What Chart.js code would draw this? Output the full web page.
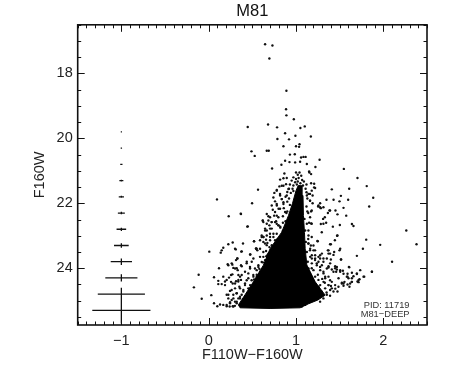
<!DOCTYPE html>
<html>
<head>
<meta charset="utf-8">
<script src="https://cdn.jsdelivr.net/npm/chart.js@4/dist/chart.umd.min.js"></script>
<style>
  html, body { margin: 0; background: #fff; }
  canvas { display: block; }
</style>
</head>
<body>
<canvas id="cmd" width="450" height="375"></canvas>
<script>
// Axis ticks
const xTickValues = [-1, 0, 1, 2];
const yTickValues = [18, 20, 22, 24];

// Median photometric errors, drawn at color = -1
const errMag = [19.8, 20.3, 20.8, 21.3, 21.8, 22.3, 22.8, 23.3, 23.8, 24.3, 24.8, 25.3];
const errColor = [0.006, 0.008, 0.013, 0.023, 0.03, 0.04, 0.055, 0.084, 0.122, 0.184, 0.27, 0.333];
const errMagHalf = [0.01, 0.015, 0.02, 0.025, 0.03, 0.04, 0.05, 0.07, 0.1, 0.11, 0.2, 0.4];

// Stars, [F110W-F160W, F160W], read by eye
const brightStars = [
  [0.646,17.10],[0.73,17.14],[0.695,17.54],[0.89,18.53],[0.886,19.10],[0.89,19.29],[0.975,19.41],
  [0.447,19.65],[0.68,19.57],[0.783,19.66],[1.10,19.63],[1.05,19.68],[0.875,19.84],[0.993,19.92],
  [1.17,19.94],[0.787,20.02],[0.92,20.03],[0.856,20.24],[1.0,20.24],[1.04,20.18],[1.035,20.26],
  [0.665,20.38],[0.688,20.38],[0.49,20.40],[0.527,20.54],[0.93,20.50],[0.986,20.49],[1.058,20.59],
  [1.085,20.57],[1.11,20.57],[1.27,20.66],[0.875,20.69],[0.925,20.73],[0.99,20.74],[1.047,20.72],
  [1.124,20.79],[0.833,20.81],[0.726,20.93],[1.222,20.88],[1.548,20.94],[1.15,21.02],[1.173,21.10],
  [1.704,21.22],[0.867,21.08],[0.818,21.27],[0.856,21.23],[0.894,21.22],
  [1.0,21.05],[1.02,21.12],[1.04,21.05],[1.06,21.15],[0.97,21.2],[1.0,21.25],[1.03,21.22],[1.07,21.28],
  [0.95,21.3],[0.99,21.35],[1.02,21.33],[1.05,21.38],[1.09,21.33],[0.93,21.42],[0.97,21.45],[1.01,21.42],
  [1.04,21.47],[1.08,21.45],[1.12,21.42],[0.92,21.55],[0.96,21.55],[1.11,21.55],[0.9,21.65],[0.94,21.68],
  [0.97,21.62],[1.12,21.66],[0.88,21.8],[0.92,21.85],[1.13,21.85],[0.9,21.95],[0.93,22.05],[0.86,22.15],
  [0.9,22.25],[0.85,22.4],[0.88,22.55],[0.82,22.75],[0.85,22.85],[0.76,23.25],[0.79,23.1]
];
const leftStars = [
  [0.565,21.58],[0.095,21.88],[0.497,22.00],[0.229,22.40],[0.367,22.32],[0.443,22.72],[0.62,22.54],[0.684,22.40],
  [0.78,22.38],[0.75,22.38],[0.72,22.58],[0.772,22.55],[0.8,22.68],[0.695,22.68],[0.646,22.78],
  [0.837,21.46],[0.81,21.48],[0.78,21.59],[0.752,21.68],[0.913,21.56],[0.886,21.41],[0.818,21.76],[0.837,21.87],
  [0.76,21.94],[0.722,22.07],[0.78,22.07],[0.734,22.2],[0.8,22.17],[0.856,21.97],[0.894,21.76],
  [0.856,21.46],[0.779,21.61],[0.817,21.71],[0.741,21.82],[0.837,21.87],[0.779,22.02],[0.856,22.02],
  [0.817,22.17],[0.76,22.27],[0.665,22.33],[0.875,22.27],[0.703,22.43],[0.798,22.43],[0.619,22.53],[0.722,22.58],
  [0.665,22.63],[0.779,22.63],[0.646,22.84],[0.703,22.78],[0.607,23.04],[0.665,22.99],[0.741,22.94],[0.626,23.19],
  [0.703,23.14],[0.542,23.4],[0.519,23.17],[0.665,23.29],[0.588,23.4],[0.447,22.71],[0.37,22.33],
  [0.007,23.49],[0.138,23.52],[0.149,23.45],[0.167,23.37],[0.225,23.26],[0.275,23.21],[0.393,23.24],[0.52,23.17],
  [0.31,23.42],[0.374,23.49],[0.477,23.58],[0.542,23.39],[0.557,23.45],[0.328,23.7],[0.313,23.75],[0.436,23.8],
  [0.264,23.85],[0.218,23.88],[0.118,24.0],[0.378,23.94],[0.282,23.99],[0.321,24.0],[0.167,24.26],[0.061,24.28],
  [-0.115,24.2],[0.271,24.19],[0.233,24.29],[0.359,24.26],[0.11,24.39],[0.187,24.41],[0.149,24.49],[0.11,24.49],
  [0.187,24.52],[0.275,24.47],[0.339,24.41],[-0.169,24.59],[0.244,24.7],[0.03,24.83],[-0.08,24.94],[0.206,24.82],
  [0.302,24.62],[0.061,25.08],[0.099,25.17],[0.13,25.12],[0.167,25.13],[0.206,25.17],[0.244,25.08],[0.275,25.17],
  [0.321,25.03],[0.359,24.88],
  [0.588,23.14],[0.626,23.04],[0.607,22.99],[0.657,23.12],[0.672,23.22],[0.702,22.94],[0.741,23.04],[0.695,23.35],
  [0.657,23.47],[0.722,23.47],[0.672,23.60],[0.626,23.65],[0.607,23.81],[0.645,23.86],[0.569,23.96],[0.53,24.01],
  [0.588,24.11],[0.55,24.26],[0.511,24.21],[0.473,23.96],[0.454,24.16],[0.492,24.37],[0.435,24.37],[0.416,24.52],
  [0.454,24.62],[0.397,24.67],[0.351,24.57],[0.378,24.82],[0.32,24.77],[0.282,24.82],[0.34,24.93],[0.397,24.98],
  [0.301,25.03],[0.225,24.93],[0.263,24.98],[0.359,25.13],
  [0.626,22.58],[0.684,22.53],[0.76,22.58],[0.798,22.68],[0.665,22.84],[0.722,22.78],[0.779,22.94],[0.626,23.04],
  [0.703,23.04],[0.76,23.14],[0.645,23.24],[0.722,23.29],[0.798,23.29],[0.55,23.40],[0.626,23.5],[0.684,23.55],
  [0.588,23.65],[0.512,23.7],[0.645,23.75],[0.569,23.91],[0.493,23.8],[0.435,23.85],[0.55,24.06],[0.474,24.01],
  [0.416,24.11],[0.512,24.26],[0.454,24.31],[0.378,24.21],[0.34,24.36],[0.416,24.47],[0.474,24.52],[0.302,24.47],
  [0.359,24.62],[0.263,24.67],[0.321,24.77],[0.397,24.72],[0.225,24.82],[0.283,24.93],[0.359,24.93],[0.244,25.05],
  [0.321,25.08],[0.206,25.13],[0.283,25.18],[0.37,25.15],[0.302,23.4],[0.378,23.48],[0.474,23.58],[0.328,23.7],
  [0.271,23.89],[0.225,23.91],[0.37,23.91],[0.332,24.06],[0.302,24.01],[0.256,24.21],[0.34,24.21],[0.37,24.36],
  [0.206,24.36],[0.256,24.42],[0.313,24.40],
  [0.3,25.16],[0.24,25.18],[0.4,25.05],[0.43,24.95],[0.46,24.78],[0.48,24.65],[0.52,24.35],[0.55,24.2],[0.58,24.02],
  [0.62,23.82],[0.66,23.63],[0.7,23.6],[0.74,23.35],[0.78,23.15],[0.82,22.72],[0.85,22.6],[0.89,22.3]
];
const rightStars = [
  [1.81,21.47],[1.609,21.55],[1.41,21.57],[1.884,21.83],[1.838,22.1],[1.514,21.77],[1.597,21.89],[1.43,21.89],
  [1.498,21.94],[1.349,21.89],[1.276,22.0],[1.314,22.12],[1.284,22.15],[1.253,22.10],[1.173,22.25],[1.13,22.25],
  [1.383,22.22],[1.365,22.30],[1.452,22.22],[1.544,22.14],[1.475,22.34],[1.575,22.38],[1.33,22.43],[1.31,22.48],
  [1.345,22.60],[1.284,22.64],[1.314,22.63],[1.173,22.62],[1.422,22.72],[1.502,22.67],[1.64,22.64],[1.658,22.70],
  [1.219,21.53],[1.208,21.40],[1.173,21.38],[1.18,21.61],[1.16,21.71],[1.19,21.76],[1.124,21.76],[1.16,21.92],
  [1.19,22.0],[1.153,21.05],[1.142,21.71],[1.161,21.92],[1.18,22.22],[1.161,22.43],[1.207,21.51],[1.18,22.63],
  [1.142,22.84],[1.18,23.04],[1.142,23.24],[1.257,22.07],[1.276,22.12],[1.295,22.89],[1.249,23.17],[1.39,22.22],
  [1.218,23.45],[1.276,23.6],[1.314,23.7],[1.218,23.75],
  [2.263,22.84],[1.964,23.28],[2.38,23.26],[2.10,23.80],[1.869,24.11],[1.804,23.12],[1.766,23.40],[1.697,23.62],
  [1.609,23.97],[1.735,24.06],[1.697,24.18],[1.781,24.26],[1.727,24.34],[1.704,24.41],[1.64,24.31],[1.59,24.17],
  [1.475,22.99],[1.445,23.14],[1.39,23.26],[1.245,23.16],[1.506,23.40],[1.437,23.50],[1.39,23.55],[1.365,23.45],
  [1.517,23.73],[1.448,23.94],[1.506,24.06],[1.372,23.98],[1.468,24.04],[1.544,24.17],[1.601,24.31],[1.525,24.45],
  [1.59,24.5],[1.399,23.26],[1.47,23.0],[1.498,23.45],[1.372,23.45],[1.372,23.55],[1.429,23.59],[1.399,23.73],
  [1.514,23.73],[1.606,23.96],[1.537,24.08],[1.448,24.0],[1.46,24.11],[1.41,24.04],[1.372,23.94],[1.64,24.14],
  [1.658,24.25],[1.869,24.11],[1.59,24.26],[1.716,24.43],[1.64,24.42],[1.555,24.42],[1.525,24.47],[1.544,24.54],
  [1.612,24.57],[1.486,24.57],[1.475,24.72],[1.429,24.72],[1.41,24.62],[1.372,24.52],[1.334,24.31],[1.39,24.37],
  [1.314,24.11],[1.276,23.96],[1.238,23.85],[1.276,23.7],[1.314,23.8],[1.219,23.6],[1.181,23.7],[1.16,23.45],
  [1.142,23.24],[1.39,24.85],[1.314,24.93],[1.276,25.03],[1.353,24.82],[1.238,24.88],[1.199,24.98],
  [1.097,22.48],[1.124,22.63],[1.105,22.84],[1.143,22.99],[1.112,23.19],[1.162,23.4],[1.124,23.5],[1.2,23.45],
  [1.162,23.65],[1.219,23.7],[1.135,23.8],[1.181,23.85],[1.257,23.8],[1.143,24.01],[1.2,24.06],[1.277,24.06],
  [1.162,24.21],[1.219,24.26],[1.315,24.16],[1.353,24.01],[1.372,24.26],[1.257,24.36],[1.315,24.42],[1.2,24.47],
  [1.41,24.42],[1.257,24.57],[1.334,24.62],[1.219,24.67],[1.391,24.67],[1.162,24.77],[1.277,24.82],[1.2,24.93],
  [1.124,24.98],[1.448,24.52],[1.487,24.31],[1.429,24.11],[1.506,24.11],[1.544,24.47],[1.62,24.47],[1.582,24.26],
  [1.697,24.16],[1.639,24.42],[1.716,24.36],[1.773,24.26],[1.391,23.85],[1.468,23.96],[1.296,23.55],[1.353,23.7],
  [1.105,25.13],[1.066,25.18],[1.257,23.65],[1.238,23.91],[1.181,23.6],[1.296,23.91],[1.334,24.26],[1.277,24.52],
  [1.372,24.52],[1.143,24.57],
  [1.25,24.2],[1.3,24.33],[1.18,24.0],[1.33,24.45],[1.25,24.68],[1.29,24.72],[1.35,24.75],[1.17,24.4],[1.22,24.52],
  [1.4,24.55],[1.45,24.63],[1.15,22.6],[1.14,22.3],[1.12,22.1],[1.14,23.1],[1.17,23.3],[1.2,23.3]
];

// Where the stars pile up into solid black, outline of that region
const coreOutline = [
  [1.0,21.61],[0.96,22.0],[0.913,22.38],[0.836,22.89],[0.703,23.40],[0.626,23.91],[0.512,24.42],[0.416,24.82],
  [0.34,25.13],[0.36,25.22],[0.703,25.24],[1.047,25.22],[1.14,25.1],[1.25,24.98],[1.334,24.83],[1.22,24.42],
  [1.124,23.9],[1.105,23.4],[1.097,22.9],[1.085,22.38],[1.08,21.76],[1.07,21.46],[1.024,21.46],[1.0,21.61]
];

const toPoints = list => list.map(p => ({ x: p[0], y: p[1] }));

// Horizontal and vertical error bars as broken line segments
function errorSegments() {
  const pts = [];
  errMag.forEach((mag, i) => {
    pts.push({ x: -1 - errColor[i], y: mag }, { x: -1 + errColor[i], y: mag }, { x: NaN, y: NaN });
    pts.push({ x: -1, y: mag - errMagHalf[i] }, { x: -1, y: mag + errMagHalf[i] }, { x: NaN, y: NaN });
  });
  return pts;
}

// IDL-style frame: ticks point inward on all four sides
const framePlugin = {
  id: 'frame',
  afterDraw(chart) {
    const { ctx, chartArea: a, scales: { x, y } } = chart;
    ctx.save();
    ctx.strokeStyle = '#111';
    ctx.lineWidth = 1;
    ctx.beginPath();
    for (let i = -15; i <= 25; i++) {
      const px = Math.round(x.getPixelForValue(i / 10)) + 0.5;
      const len = i % 10 === 0 ? 7 : 3.5;
      ctx.moveTo(px, a.bottom); ctx.lineTo(px, a.bottom - len);
      ctx.moveTo(px, a.top); ctx.lineTo(px, a.top + len);
    }
    for (let i = 33; i <= 51; i++) {
      const py = Math.round(y.getPixelForValue(i / 2)) + 0.5;
      const len = i % 4 === 0 ? 7 : 3.5;
      ctx.moveTo(a.left, py); ctx.lineTo(a.left + len, py);
      ctx.moveTo(a.right, py); ctx.lineTo(a.right - len, py);
    }
    ctx.stroke();
    ctx.lineWidth = 1.6;
    ctx.strokeRect(a.left, a.top, a.right - a.left, a.bottom - a.top);

    ctx.fillStyle = '#333';
    ctx.font = '9.3px "Liberation Sans"';
    ctx.textAlign = 'right';
    ctx.textBaseline = 'middle';
    ctx.fillText('PID: 11719', x.getPixelForValue(2.3), y.getPixelForValue(25.16));
    ctx.fillText('M81\u2212DEEP', x.getPixelForValue(2.3), y.getPixelForValue(25.41));
    ctx.restore();
  }
};

const font = { family: '"Liberation Sans"', size: 14.5 };

new Chart(document.getElementById('cmd'), {
  type: 'scatter',
  data: {
    datasets: [
      { data: toPoints(coreOutline), showLine: true, fill: 'shape', backgroundColor: '#000', borderColor: '#000', borderWidth: 1, pointRadius: 0, tension: 0 },
      { data: toPoints(brightStars), backgroundColor: '#111', pointRadius: 1.2, borderWidth: 0 },
      { data: toPoints(leftStars), backgroundColor: '#111', pointRadius: 1.2, borderWidth: 0 },
      { data: toPoints(rightStars), backgroundColor: '#111', pointRadius: 1.2, borderWidth: 0 },
      { data: errorSegments(), showLine: true, spanGaps: false, borderColor: '#111', borderWidth: 1.3, pointRadius: 0 }
    ]
  },
  options: {
    responsive: false,
    animation: false,
    layout: { padding: { right: 23 } },
    plugins: {
      legend: { display: false },
      tooltip: { enabled: false },
      title: { display: true, text: 'M81', color: '#111', fullSize: false, font: { ...font, size: 16.5, weight: 'normal' }, padding: { top: 2, bottom: 3 } }
    },
    scales: {
      x: {
        type: 'linear', min: -1.5, max: 2.5,
        afterBuildTicks: s => { s.ticks = xTickValues.map(v => ({ value: v })); },
        afterFit: s => { s.height = 50; },
        grid: { display: false, drawTicks: false }, border: { display: false },
        ticks: { color: '#222', font, padding: 7, maxRotation: 0, callback: v => String(v).replace('-', '\u2212') },
        title: { display: true, text: 'F110W\u2212F160W', color: '#222', font, padding: { top: 0, bottom: 11 } }
      },
      y: {
        type: 'linear', reverse: true, min: 16.5, max: 25.75,
        afterBuildTicks: s => { s.ticks = yTickValues.map(v => ({ value: v })); },
        afterFit: s => { s.width = 77.7; },
        grid: { display: false, drawTicks: false }, border: { display: false },
        ticks: { color: '#222', font, padding: 5 },
        title: { display: true, text: 'F160W', color: '#222', font, padding: { top: 31, bottom: 0 } }
      }
    }
  },
  plugins: [framePlugin]
});
</script>
</body>
</html>
